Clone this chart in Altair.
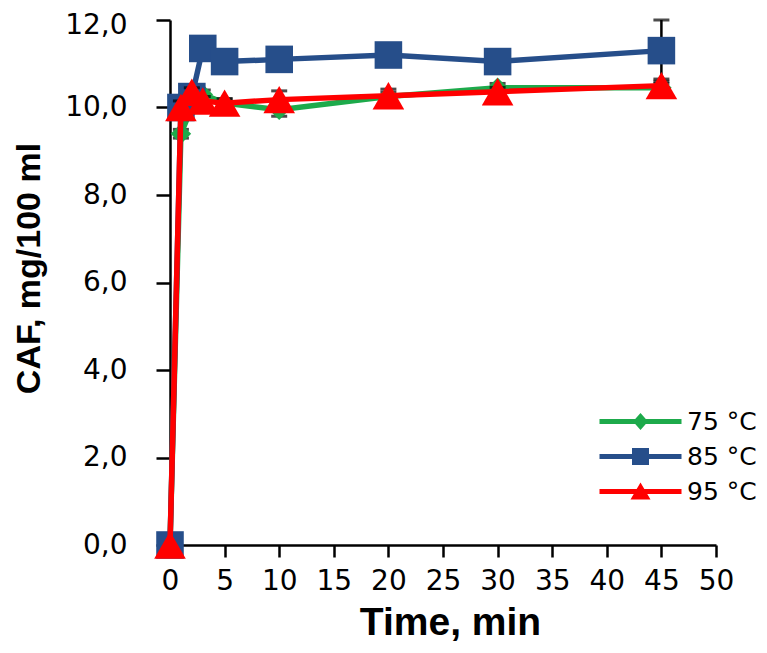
import altair as alt
import pandas as pd

# ---- data ----
times = [0, 1, 2, 3, 5, 10, 20, 30, 45]
series_names = ["75 °C", "85 °C", "95 °C"]
caf_75 = [0.0, 9.4, 10.0, 10.3, 10.1, 9.95, 10.25, 10.45, 10.45]
caf_85 = [0.0, 10.0, 10.25, 11.35, 11.05, 11.1, 11.2, 11.05, 11.3]
caf_95 = [0.0, 10.0, 10.35, 10.15, 10.1, 10.18, 10.27, 10.36, 10.5]
err_75 = [0, 0.1, 0.1, 0.1, 0.1, 0.15, 0.1, 0.1, 0.1]
err_85 = [0, 0.2, 0.1, 0.1, 0.1, 0.1, 0.1, 0.1, 0.7]
err_95 = [0, 0.15, 0.1, 0.1, 0.1, 0.2, 0.15, 0.1, 0.15]
colors = ["#1DAA4B", "#264E8A", "#FF0000"]
marker_shapes = ["diamond", "square", "triangle-up"]
marker_sizes = [420, 760, 1000]
x_ticks = [0, 5, 10, 15, 20, 25, 30, 35, 40, 45, 50]
y_ticks = [0, 2, 4, 6, 8, 10, 12]

# legend symbols: a line segment with the marker on it (custom SVG paths)
legend_paths = [
    "M-4.1,-0.24H4.1V0.24H-4.1Z M0,-0.85L0.75,0L0,0.85L-0.75,0Z",
    "M-4.1,-0.24H4.1V0.24H-4.1Z M-0.85,-0.85H0.85V0.85H-0.85Z",
    "M-4.1,-0.24H4.1V0.24H-4.1Z M0,-0.9L1,0.8H-1Z",
]

values = [caf_75, caf_85, caf_95]
errors = [err_75, err_85, err_95]
rows = []
for name, vals, errs in zip(series_names, values, errors):
    for t, v, e in zip(times, vals, errs):
        rows.append({"series": name, "time": t, "caf": v, "err": e,
                     "lo": v - e, "hi": v + e})
df = pd.DataFrame(rows)

x_scale = alt.Scale(domain=[0, 50], nice=False, zero=False)
y_scale = alt.Scale(domain=[0, 12], nice=False)

x_axis = alt.Axis(
    values=x_ticks, tickSize=12, labelPadding=10,
    labelFont="DejaVu Sans", labelFontSize=28, labelColor="black",
    title="Time, min", titleFont="Liberation Sans", titleFontSize=39,
    titleFontWeight="bold", titleColor="black",
    titleBaseline="middle", titleY=77, titleX=280, titleAlign="center",
    grid=False, labelFlush=False, labelOverlap=False,
)
y_axis = alt.Axis(
    values=y_ticks, tickSize=14, labelPadding=29,
    labelExpr="replace(format(datum.value, '.1f'), '.', ',')",
    labelOffset={"condition": {"test": "datum.value == 12", "value": 5}, "value": 0},
    labelFont="DejaVu Sans", labelFontSize=28, labelColor="black",
    title="CAF, mg/100 ml", titleFont="Liberation Sans", titleFontSize=34,
    titleFontWeight="bold", titleColor="black", titleAngle=-90,
    titleBaseline="alphabetic", titleAlign="center", titleX=-131, titleY=248,
    grid=False, labelFlush=False, labelOverlap=False,
)

base = alt.Chart(df)
layers = []
for i, name in enumerate(series_names):
    sub = base.transform_filter(alt.datum.series == name)
    eb = sub.transform_filter(alt.datum.err > 0)
    layers.append(eb.mark_rule(color="black", strokeWidth=2.5).encode(
        x=alt.X("time:Q", scale=x_scale, axis=x_axis),
        y=alt.Y("lo:Q", scale=y_scale, axis=y_axis),
        y2="hi:Q"))
    layers.append(eb.mark_tick(color="black", thickness=3, size=16,
                               orient="horizontal").encode(
        x=alt.X("time:Q", scale=x_scale), y=alt.Y("lo:Q", scale=y_scale)))
    layers.append(eb.mark_tick(color="black", thickness=3, size=16,
                               orient="horizontal").encode(
        x=alt.X("time:Q", scale=x_scale), y=alt.Y("hi:Q", scale=y_scale)))
    layers.append(sub.mark_line(color=colors[i], strokeWidth=5.5).encode(
        x=alt.X("time:Q", scale=x_scale),
        y=alt.Y("caf:Q", scale=y_scale),
        order="time:Q"))
    layers.append(sub.mark_point(shape=marker_shapes[i], filled=True,
                                 size=marker_sizes[i], color=colors[i],
                                 opacity=1).encode(
        x=alt.X("time:Q", scale=x_scale),
        y=alt.Y("caf:Q", scale=y_scale)))

legend = alt.Legend(
    orient="none", legendX=458, legendY=389, title=None, padding=0,
    symbolSize=400, symbolStrokeWidth=0, labelOffset=34, rowPadding=9,
    labelFont="DejaVu Sans", labelFontSize=25, labelColor="black",
)
legend_layer = base.transform_filter("false").mark_point(
    filled=True, opacity=1).encode(
    x=alt.X("time:Q", scale=x_scale),
    y=alt.Y("caf:Q", scale=y_scale),
    color=alt.Color("series:N", scale=alt.Scale(domain=series_names, range=colors),
                    legend=legend),
    shape=alt.Shape("series:N", scale=alt.Scale(domain=series_names, range=legend_paths),
                    legend=legend),
)
layers.append(legend_layer)

chart = alt.layer(*layers).properties(
    width=546, height=525,
    autosize=alt.AutoSizeParams(type="none"),
    padding={"left": 162, "top": 12, "right": 43, "bottom": 100},
).configure_view(stroke=None).configure_axis(
    domainColor="black", domainWidth=2.5, tickColor="black", tickWidth=2.5,
)

chart.save("out.html", embed_options={"renderer": "svg", "actions": False})
